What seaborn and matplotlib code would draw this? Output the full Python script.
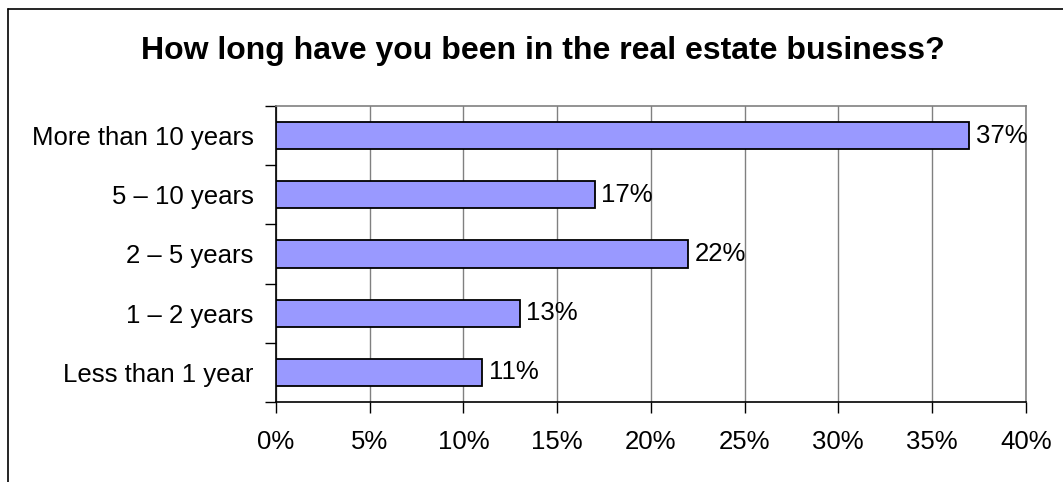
import matplotlib
matplotlib.use("Agg")
import matplotlib.pyplot as plt
from matplotlib.lines import Line2D
from matplotlib.ticker import FixedLocator
import seaborn as sns
import pandas as pd

# Survey answers, top to bottom as listed on the chart
categories = ["More than 10 years", "5 \u2013 10 years", "2 \u2013 5 years",
              "1 \u2013 2 years", "Less than 1 year"]
shares = [37, 17, 22, 13, 11]  # percent of respondents
x_ticks = [0, 5, 10, 15, 20, 25, 30, 35, 40]
title = "How long have you been in the real estate business?"

sns.set_theme(style="white")
plt.rcParams["font.family"] = ["Liberation Sans", "DejaVu Sans"]

W, H = 1063, 482
fig = plt.figure(figsize=(W / 100, H / 100), dpi=100)
fig.patch.set_facecolor("white")

# plot area in pixel coordinates
left, right, top, bottom = 276, 1025.7, 106, 402
ax = fig.add_axes([left / W, 1 - bottom / H, (right - left) / W, (bottom - top) / H])

df = pd.DataFrame({"category": categories, "share": shares})
sns.barplot(data=df, x="share", y="category", order=categories, orient="h",
            color="#9999FF", saturation=1, edgecolor="black", linewidth=1.3,
            width=0.46, ax=ax, zorder=3)

ax.set_xlim(0, 40)
ax.set_ylim(len(categories) - 0.5, -0.5)
ax.set_xlabel("")
ax.set_ylabel("")

ax.set_xticks(x_ticks)
ax.set_xticklabels([f"{t}%" for t in x_ticks])
ax.tick_params(axis="x", which="major", direction="out", length=8, width=1,
               color="black", pad=12, labelsize=18.5, labelcolor="black", bottom=True)

# category labels without marks, boundary marks as minor ticks
ax.tick_params(axis="y", which="major", length=0, pad=16, labelsize=18.5,
               labelcolor="black")
ax.yaxis.set_minor_locator(FixedLocator([i - 0.5 for i in range(len(categories) + 1)]))
ax.tick_params(axis="y", which="minor", direction="out", length=8, width=1,
               color="black", left=True)

ax.xaxis.grid(True, color="#808080", linewidth=1)
ax.yaxis.grid(False)
ax.set_axisbelow(True)

for side in ("left", "bottom"):
    ax.spines[side].set_color("black")
    ax.spines[side].set_linewidth(1.2)
for side in ("top", "right"):
    ax.spines[side].set_color("#808080")
    ax.spines[side].set_linewidth(1.2)
    ax.spines[side].set_visible(True)

for i, v in enumerate(shares):
    ax.text(v + 0.35, i, f"{v}%", ha="left", va="center", fontsize=18.5,
            color="black", zorder=4)

fig.text(543 / W, 1 - 59 / H, title, ha="center", va="baseline",
         fontsize=23, fontweight="bold", color="black")

# chart frame
fig.add_artist(Line2D([8 / W, 8 / W], [0, 1 - 8.5 / H], color="black", linewidth=1.2))
fig.add_artist(Line2D([8 / W, 1], [1 - 8.5 / H, 1 - 8.5 / H], color="black", linewidth=1.2))

fig.savefig("out.png", dpi=100)
